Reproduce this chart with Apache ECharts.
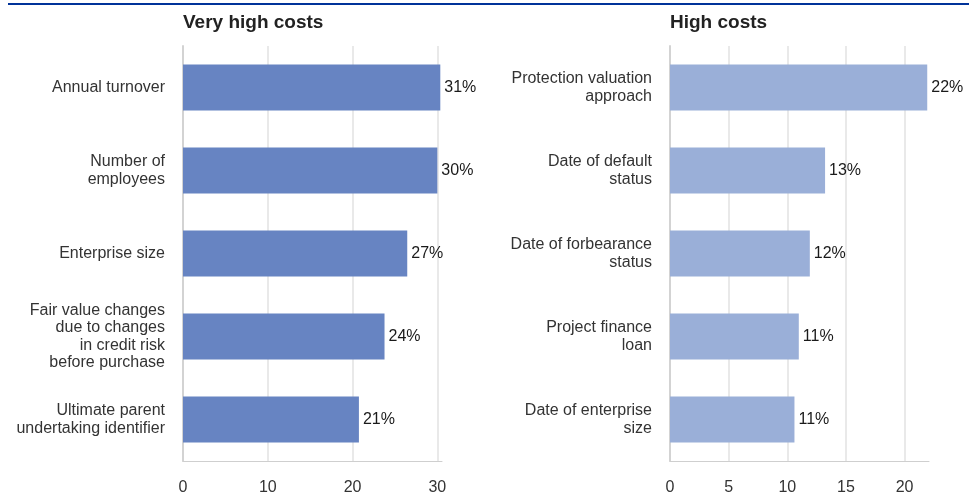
<!DOCTYPE html>
<html>
<head>
<meta charset="utf-8">
<script src="https://cdn.jsdelivr.net/npm/echarts@6/dist/echarts.min.js"></script>
<style>
html,body{margin:0;padding:0;background:#fff;}
#chart{width:976px;height:501px;}
</style>
</head>
<body>
<div id="chart"></div>
<script>
// Left panel: very high costs
const leftTitle = 'Very high costs';
const leftCategories = [
  'Annual turnover',
  'Number of\nemployees',
  'Enterprise size',
  'Fair value changes\ndue to changes\nin credit risk\nbefore purchase',
  'Ultimate parent\nundertaking identifier'
];
const leftValues = [30.35, 30.0, 26.45, 23.77, 20.75];
const leftLabels = ['31%', '30%', '27%', '24%', '21%'];
const leftTicks = [0, 10, 20, 30];

// Right panel: high costs
const rightTitle = 'High costs';
const rightCategories = [
  'Protection valuation\napproach',
  'Date of default\nstatus',
  'Date of forbearance\nstatus',
  'Project finance\nloan',
  'Date of enterprise\nsize'
];
const rightValues = [21.93, 13.22, 11.92, 10.98, 10.61];
const rightLabels = ['22%', '13%', '12%', '11%', '11%'];
const rightTicks = [0, 5, 10, 15, 20];

const FONT = '"Liberation Sans", Arial, sans-serif';
const GRID_TOP = 46, GRID_H = 415, GRID_W = 259;

function xAxisFor(idx, max, interval, ticks) {
  return {
    gridIndex: idx, type: 'value', min: 0, max: max, interval: interval,
    axisLine: {show: true, lineStyle: {color: '#cfcfcf', width: 1}},
    axisTick: {show: false},
    axisLabel: {
      fontFamily: FONT, fontSize: 16, color: '#333', margin: 19,
      formatter: v => ticks.indexOf(v) >= 0 ? String(v) : ''
    },
    splitLine: {show: true, lineStyle: {
      color: ticks.map(() => '#e2e2e2').concat(['rgba(0,0,0,0)']), width: 1.5}}
  };
}
function yAxisFor(idx, cats) {
  return {
    gridIndex: idx, type: 'category', data: cats, inverse: true,
    axisLine: {show: true, lineStyle: {color: '#d3d3d3', width: 2}},
    axisTick: {show: false},
    axisLabel: {fontFamily: FONT, fontSize: 16, color: '#333', margin: 18,
      lineHeight: 17.5, align: 'right'}
  };
}
function seriesFor(idx, vals, labels, color) {
  return {
    type: 'bar', xAxisIndex: idx, yAxisIndex: idx, data: vals, barWidth: 46,
    itemStyle: {color: color},
    label: {show: true, position: 'right', distance: 4, fontFamily: FONT,
      fontSize: 16, color: '#1a1a1a',
      formatter: p => labels[p.dataIndex]},
    z: 3
  };
}

const chart = echarts.init(document.getElementById('chart'), null, {renderer: 'canvas'});
chart.setOption({
  animation: false,
  backgroundColor: '#fff',
  title: [
    {text: leftTitle, left: 183, top: 13, padding: 0, textStyle: {fontFamily: FONT, fontSize: 19, fontWeight: 'bold', color: '#222'}},
    {text: rightTitle, left: 670, top: 13, padding: 0, textStyle: {fontFamily: FONT, fontSize: 19, fontWeight: 'bold', color: '#222'}}
  ],
  graphic: [{type: 'line', shape: {x1: 8, y1: 4, x2: 969, y2: 4}, style: {stroke: '#003299', lineWidth: 2}}],
  grid: [
    {left: 183, top: GRID_TOP, width: GRID_W, height: GRID_H},
    {left: 670, top: GRID_TOP, width: GRID_W, height: GRID_H}
  ],
  xAxis: [xAxisFor(0, 30.55, 10, leftTicks), xAxisFor(1, 22.08, 5, rightTicks)],
  yAxis: [yAxisFor(0, leftCategories), yAxisFor(1, rightCategories)],
  series: [
    seriesFor(0, leftValues, leftLabels, '#6784c2'),
    seriesFor(1, rightValues, rightLabels, '#9aafd8')
  ]
});
</script>
</body>
</html>
